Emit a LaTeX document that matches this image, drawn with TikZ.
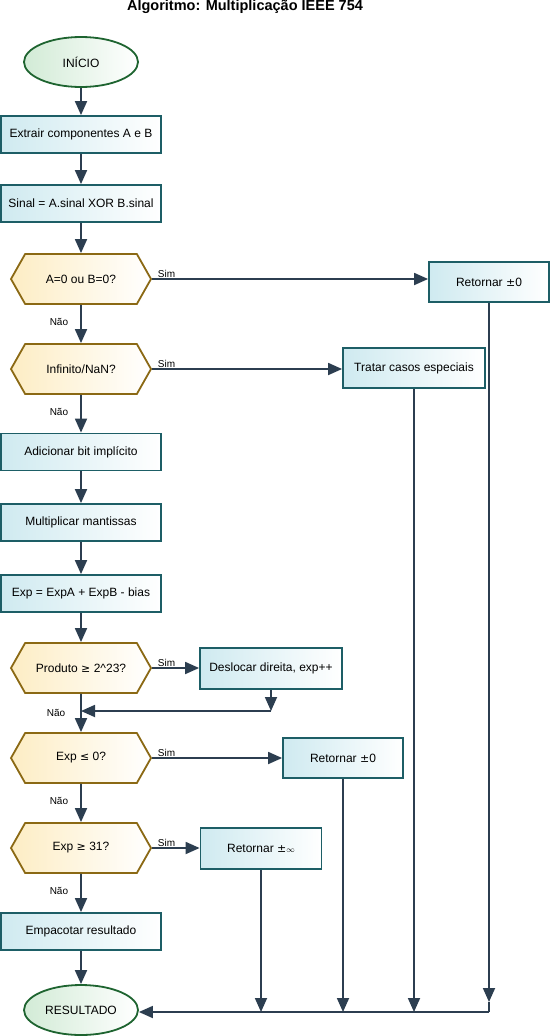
\documentclass[tikz,border=0pt]{standalone}
\usepackage{fontspec}
\setmainfont{Liberation Sans}
\newfontfamily\symfont{DejaVu Sans}
\usetikzlibrary{shapes.geometric,shapes.symbols,arrows.meta}
\definecolor{arr}{HTML}{2C3E50}
\definecolor{boxb}{HTML}{1D5E66}
\definecolor{boxf}{HTML}{CFEAF0}
\definecolor{hexb}{HTML}{8B6914}
\definecolor{hexf}{HTML}{FDEDC4}
\definecolor{ellb}{HTML}{1E6430}
\definecolor{ellf}{HTML}{D2EBD6}
\tikzset{
  every node/.style={font=\fontsize{12}{14}\selectfont, inner sep=0pt},
  procbox/.style={rectangle, draw=boxb, line width=1.8pt, left color=boxf, right color=white, minimum height=37pt},
  decbox/.style={signal, signal to=west and east, signal pointer angle=121, draw=hexb, line width=1.8pt, left color=hexf, right color=white, minimum width=140pt, minimum height=50pt},
  termbox/.style={ellipse, draw=ellb, line width=1.8pt, left color=ellf, right color=white, minimum width=114pt, minimum height=50pt},
  conn/.style={draw=arr, line width=1.8pt, -{Triangle[length=14pt,width=12pt]}},
  plain/.style={draw=arr, line width=1.8pt},
  lbl/.style={font=\fontsize{10}{11}\selectfont, text=black}
}
\begin{document}
\begin{tikzpicture}[x=1pt,y=-1pt]
\useasboundingbox (0,0) rectangle (550,1036);
\node[font=\bfseries\fontsize{14.5}{16}\selectfont] (title) at (245,7) {Algoritmo: Multiplicação IEEE 754};
\node[termbox] (start) at (81,62) {INÍCIO};
\node[procbox, minimum width=160pt] (b1) at (81,134.5) {Extrair componentes A e B};
\node[procbox, minimum width=160pt] (b2) at (81,203.5) {Sinal = A.sinal XOR B.sinal};
\node[decbox] (h1) at (81,279) {A=0 ou B=0?};
\node[procbox, minimum width=120pt, minimum height=40pt] (r1) at (489,282) {Retornar {\symfont\fontsize{11}{13}\selectfont ±}0};
\node[decbox] (h2) at (81,369) {Infinito/NaN?};
\node[procbox, minimum width=142pt, minimum height=40pt] (r2) at (414,368) {Tratar casos especiais};
\node[procbox, minimum width=160pt] (b3) at (81,452) {Adicionar bit implícito};
\node[procbox, minimum width=160pt] (b4) at (81,522.5) {Multiplicar mantissas};
\node[procbox, minimum width=160pt] (b5) at (81,593.5) {Exp = ExpA + ExpB - bias};
\node[decbox] (h3) at (81,668) {Produto {\symfont\fontsize{11}{13}\selectfont ≥} 2\^{}23?};
\node[procbox, minimum width=142pt, minimum height=41pt] (r3) at (271,668.5) {Deslocar direita, exp++};
\coordinate (m3) at (81,711);
\coordinate (m3r) at (271,711);
\node[decbox] (h4) at (81,758) {Exp {\symfont\fontsize{11}{13}\selectfont ≤} 0?};
\node[procbox, minimum width=120pt, minimum height=40pt] (r4) at (343,758) {Retornar {\symfont\fontsize{11}{13}\selectfont ±}0};
\node[decbox] (h5) at (81,848) {Exp {\symfont\fontsize{11}{13}\selectfont ≥} 31?};
\node[procbox, minimum width=121pt, minimum height=41pt] (r5) at (261,848.5) {Retornar {\symfont\fontsize{11}{13}\selectfont ±}{\fontsize{8}{10}\selectfont$\infty$}};
\node[procbox, minimum width=160pt] (b6) at (81,931.5) {Empacotar resultado};
\node[termbox] (end) at (81,1010) {RESULTADO};
\coordinate (c1) at (489,1012);
\coordinate (a1) at (489,1002);
\coordinate (c2) at (414,1012);
\coordinate (c4) at (343,1012);
\coordinate (c5) at (261,1012);
% main flow
\draw[conn] (start) -- (b1);
\draw[conn] (b1) -- (b2);
\draw[conn] (b2) -- (h1);
\draw[conn] (h1) -- node[lbl, pos=0.45, left=12pt] (n1) {Não} (h2);
\draw[conn] (h2) -- node[lbl, pos=0.45, left=12pt] (n2) {Não} (b3);
\draw[conn] (b3) -- (b4);
\draw[conn] (b4) -- (b5);
\draw[conn] (b5) -- (h3);
\draw[conn] (h3) -- (h4);
\node[lbl] (n3) at (56,713) {Não};
\draw[conn] (h4) -- node[lbl, pos=0.45, left=12pt] (n4) {Não} (h5);
\draw[conn] (h5) -- node[lbl, pos=0.45, left=12pt] (n5) {Não} (b6);
\draw[conn] (b6) -- (end);
% yes branches
\draw[conn] (h1.east) -- node[lbl, pos=0, anchor=south west, xshift=5pt, yshift=1pt] (s1) {Sim} (h1.east -| r1.west);
\draw[conn] (h2.east) -- node[lbl, pos=0, anchor=south west, xshift=5pt, yshift=1pt] (s2) {Sim} (h2.east -| r2.west);
\draw[conn] (h3.east) -- node[lbl, pos=0, anchor=south west, xshift=5pt, yshift=1pt] (s3) {Sim} (h3.east -| r3.west);
\draw[conn] (h4.east) -- node[lbl, pos=0, anchor=south west, xshift=5pt, yshift=1pt] (s4) {Sim} (h4.east -| r4.west);
\draw[conn] (h5.east) -- node[lbl, pos=0, anchor=south west, xshift=5pt, yshift=1pt] (s5) {Sim} (h5.east -| r5.west);
% merge after shift
\draw[conn] (r3.south) -- (m3r);
\draw[conn] (m3r) -- (m3);
% returns to result
\draw[conn] (r1.south) -- (a1);
\draw[plain] (a1) -- (c1);
\draw[conn] (r2.south) -- (c2);
\draw[conn] (r4.south) -- (c4);
\draw[conn] (r5.south) -- (c5);
\draw[conn] (c1) -- (c1 -| end.east);
\end{tikzpicture}
\end{document}
